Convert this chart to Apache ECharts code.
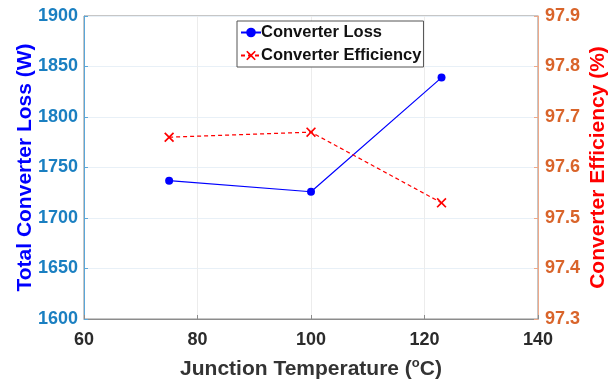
<!DOCTYPE html>
<html>
<head>
<meta charset="utf-8">
<script src="https://cdn.jsdelivr.net/npm/echarts@6/dist/echarts.min.js"></script>
<style>
html,body{margin:0;padding:0;background:#fff;}
#c{width:616px;height:382px;}
</style>
</head>
<body>
<div id="c"></div>
<script>
const temperatures = [75, 100, 123];
const converterLoss = [1737, 1726, 1839];
const converterEfficiency = [97.66, 97.67, 97.53];
const xTicks = [60, 80, 100, 120, 140];
const lossTicks = [1600, 1650, 1700, 1750, 1800, 1850, 1900];
const effTicks = [97.3, 97.4, 97.5, 97.6, 97.7, 97.8, 97.9];

const FONT = 'Arial, "Liberation Sans", sans-serif';
const chart = echarts.init(document.getElementById('c'), null, {renderer: 'canvas'});

const xSym = 'path://M0,1.2L1.2,0L5,3.8L8.8,0L10,1.2L6.2,5L10,8.8L8.8,10L5,6.2L1.2,10L0,8.8L3.8,5Z';

chart.setOption({
  animation: false,
  backgroundColor: '#fff',
  textStyle: {fontFamily: FONT},
  grid: {left: 84, right: 78, top: 16, bottom: 63, containLabel: false, outerBoundsMode: 'none',
    show: true, borderColor: '#8c8c8c', borderWidth: 1, backgroundColor: 'transparent'},
  legend: {
    orient: 'vertical', left: 237, top: 21,
    backgroundColor: '#fff', borderColor: '#555', borderWidth: 1,
    padding: [3, 2, 3, 3], itemGap: 6, itemWidth: 20, itemHeight: 12,
    textStyle: {fontFamily: FONT, fontWeight: 'bold', fontSize: 16.5, color: '#111', padding: [0,0,0,-5]},
    data: ['Converter Loss', 'Converter Efficiency']
  },
  xAxis: {
    type: 'value', min: xTicks[0], max: xTicks[xTicks.length-1], interval: 20,
    name: '{a|Junction Temperature (}{s|o}{a|C)}',
    nameLocation: 'middle', nameGap: 38, nameMoveOverlap: false,
    nameTextStyle: {
      rich: {
        a: {fontFamily: FONT, fontWeight: 'bold', fontSize: 21, color: '#333'},
        s: {fontFamily: FONT, fontWeight: 'bold', fontSize: 13, color: '#333', verticalAlign: 'top', padding: [0,0,11,0]}
      }
    },
    axisLine: {lineStyle: {color: '#8c8c8c', width: 1}},
    axisTick: {inside: true, length: 4, lineStyle: {color: '#8c8c8c'}},
    axisLabel: {fontFamily: FONT, fontWeight: 'bold', fontSize: 18, color: '#2b2b2b', margin: 12},
    splitLine: {show: true, lineStyle: {color: '#ececec', width: 1}}
  },
  yAxis: [
    {
      type: 'value', min: lossTicks[0], max: lossTicks[lossTicks.length-1], interval: 50,
      position: 'left',
      name: 'Total Converter Loss (W)', nameLocation: 'middle', nameGap: 48, nameRotate: 90,
      nameMoveOverlap: false,
      nameTextStyle: {fontFamily: FONT, fontWeight: 'bold', fontSize: 21, color: '#0000ff'},
      axisLine: {show: true, lineStyle: {color: '#5aa6d8', width: 1}},
      axisTick: {show: true, inside: true, length: 4, lineStyle: {color: '#5aa6d8'}},
      axisLabel: {fontFamily: FONT, fontWeight: 'bold', fontSize: 18, color: '#1a7fc1', margin: 6,
        formatter: v => String(Math.round(v))},
      splitLine: {show: true, lineStyle: {color: '#e8f0f7', width: 1}}
    },
    {
      type: 'value', min: effTicks[0], max: effTicks[effTicks.length-1], interval: 0.1,
      position: 'right',
      name: 'Converter Efficiency (%)', nameLocation: 'middle', nameGap: 50, nameRotate: 90,
      nameMoveOverlap: false,
      nameTextStyle: {fontFamily: FONT, fontWeight: 'bold', fontSize: 21, color: '#ff0000'},
      axisLine: {show: true, lineStyle: {color: '#eda98a', width: 1}},
      axisTick: {show: true, inside: true, length: 4, lineStyle: {color: '#eda98a'}},
      axisLabel: {fontFamily: FONT, fontWeight: 'bold', fontSize: 18, color: '#d9642a', margin: 7,
        formatter: v => Number(v).toFixed(1)},
      splitLine: {show: false}
    }
  ],
  series: [
    {
      name: 'Converter Loss', type: 'line', yAxisIndex: 0,
      data: temperatures.map((t, i) => [t, converterLoss[i]]),
      symbol: 'circle', symbolSize: 8, showSymbol: true,
      lineStyle: {color: '#0000ff', width: 1.2},
      itemStyle: {color: '#0000ff'}
    },
    {
      name: 'Converter Efficiency', type: 'line', yAxisIndex: 1,
      data: temperatures.map((t, i) => [t, converterEfficiency[i]]),
      symbol: xSym, symbolSize: 10, showSymbol: true,
      lineStyle: {color: '#ff0000', width: 1.2, type: [4, 3]},
      itemStyle: {color: '#ff0000'}
    }
  ]
});
</script>
</body>
</html>
